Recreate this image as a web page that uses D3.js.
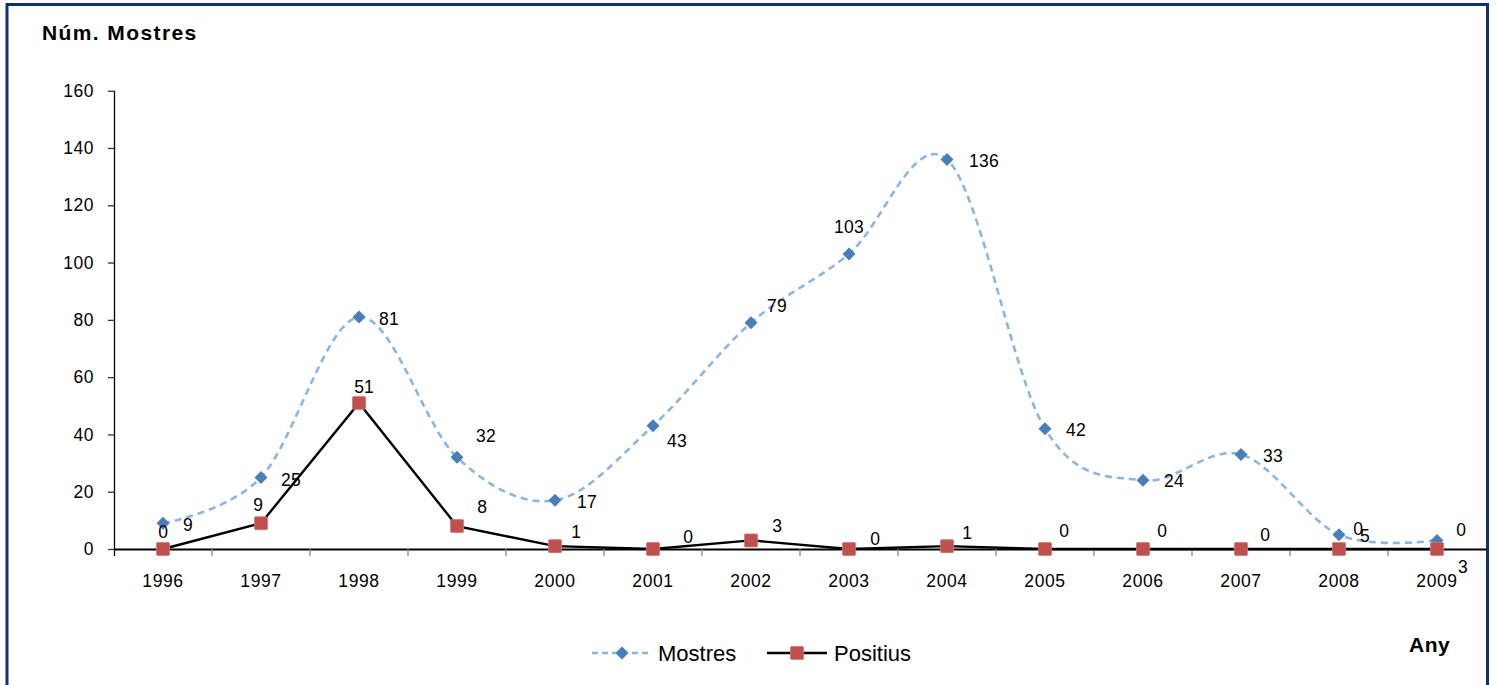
<!DOCTYPE html>
<html><head><meta charset="utf-8">
<script src="https://cdn.jsdelivr.net/npm/d3@7"></script>
<style>
html,body{margin:0;padding:0;background:#fff;}
svg{display:block;font-family:"Liberation Sans",Arial,sans-serif;}
</style></head>
<body>
<svg id="c" width="1496" height="685"></svg>
<script>
const categories = ["1996","1997","1998","1999","2000","2001","2002","2003","2004","2005","2006","2007","2008","2009"];
const mostres  = [9,25,81,32,17,43,79,103,136,42,24,33,5,3];
const positius = [0,9,51,8,1,0,3,0,1,0,0,0,0,0];
const yTicks = [0,20,40,60,80,100,120,140,160];
// label placement offsets (layout)
const mostresLabelOff = [[25,2],[30,2],[30,2],[29,-21],[32,2],[24,15],[26,-17],[0,-27],[37,1],[31,1],[31,1],[32,1],[26,1],[26,26]];
const positiusLabelOff = [[0,-17],[-3,-18],[5,-16],[25,-19],[21,-14],[35,-12],[26,-15],[26,-10],[20,-13],[19,-18],[19,-18],[24,-14],[19,-20],[24,-19]];

const svg = d3.select("#c");
const x = d3.scaleBand().domain(categories).range([114,1486]).padding(0);
const y = d3.scaleLinear().domain([0,160]).range([549,90.7]);
const cx = c => x(c) + x.bandwidth()/2;

// frame
svg.append("rect").attr("x",7).attr("y",4.5).attr("width",1480.5).attr("height",700)
  .attr("fill","none").attr("stroke","#14306c").attr("stroke-width",3);

// y axis
const yAxis = svg.append("g").attr("transform","translate(114,0)")
  .call(d3.axisLeft(y).tickValues(yTicks).tickSize(6).tickSizeOuter(0).tickPadding(14));
yAxis.select(".domain").attr("stroke","#000").attr("stroke-width",1.3).attr("d","M0.5,90.7V556");
yAxis.selectAll(".tick line").attr("stroke","#333").attr("stroke-width",1.3);
yAxis.selectAll("text").attr("font-size",17.5).attr("letter-spacing",0.5).attr("fill","#000").attr("font-family","Liberation Sans, Arial, sans-serif");

// x axis
const xAxis = svg.append("g").attr("transform","translate(0,549)")
  .call(d3.axisBottom(x).tickSize(0).tickSizeOuter(0).tickPadding(26));
xAxis.select(".domain").attr("stroke","#000").attr("stroke-width",2);
xAxis.selectAll("text").attr("font-size",17.5).attr("letter-spacing",0.6).attr("fill","#000").attr("font-family","Liberation Sans, Arial, sans-serif");
xAxis.selectAll(".bt").data(categories.slice(1)).enter().append("line")
  .attr("x1",d=>x(d)).attr("x2",d=>x(d)).attr("y1",0).attr("y2",7)
  .attr("stroke","#888").attr("stroke-width",1.3);

// Mostres line
const lineM = d3.line().x((d,i)=>cx(categories[i])).y(d=>y(d)).curve(d3.curveCatmullRom.alpha(0));
svg.append("path").datum(mostres).attr("d",lineM).attr("fill","none")
  .attr("stroke","#8db4e3").attr("stroke-width",2.6).attr("stroke-dasharray","7,5");

// Positius line
const lineP = d3.line().x((d,i)=>cx(categories[i])).y(d=>y(d));
svg.append("path").datum(positius).attr("d",lineP).attr("fill","none")
  .attr("stroke","#000").attr("stroke-width",2.4);

// markers
const diamond = s => `M0,${-s}L${s},0L0,${s}L${-s},0Z`;
svg.selectAll(".dm").data(mostres).enter().append("path")
  .attr("transform",(d,i)=>`translate(${cx(categories[i])},${y(d)})`)
  .attr("d",diamond(6.5)).attr("fill","#4a7ebb");
svg.selectAll(".sq").data(positius).enter().append("rect")
  .attr("x",(d,i)=>cx(categories[i])-6.5).attr("y",d=>y(d)-6.5)
  .attr("width",13).attr("height",13).attr("rx",1)
  .attr("fill","#c0504d").attr("stroke","#d07a78").attr("stroke-width",0.8);

// data labels
svg.selectAll(".lm").data(mostres).enter().append("text")
  .attr("x",(d,i)=>cx(categories[i])+mostresLabelOff[i][0])
  .attr("y",(d,i)=>y(d)+mostresLabelOff[i][1])
  .attr("dy","0.35em").attr("text-anchor","middle").attr("font-size",17.5).attr("letter-spacing",0.3).attr("fill","#000")
  .text(d=>d);
svg.selectAll(".lp").data(positius).enter().append("text")
  .attr("x",(d,i)=>cx(categories[i])+positiusLabelOff[i][0])
  .attr("y",(d,i)=>y(d)+positiusLabelOff[i][1])
  .attr("dy","0.35em").attr("text-anchor","middle").attr("font-size",17.5).attr("fill","#000")
  .text(d=>d);

// titles
svg.append("text").attr("x",42).attr("y",40).attr("font-size",21).attr("font-weight","bold")
  .attr("letter-spacing",1.4).attr("fill","#000").text("Núm. Mostres");
svg.append("text").attr("x",1409).attr("y",652).attr("font-size",21).attr("font-weight","bold")
  .attr("letter-spacing",0.5).attr("fill","#000").text("Any");

// legend
const lg = svg.append("g");
lg.append("line").attr("x1",592).attr("x2",651).attr("y1",653).attr("y2",653)
  .attr("stroke","#8db4e3").attr("stroke-width",2.6).attr("stroke-dasharray","6,4");
lg.append("path").attr("transform","translate(622,653)").attr("d",diamond(6.5)).attr("fill","#4a7ebb");
lg.append("text").attr("x",658).attr("y",653).attr("dy","0.36em").attr("font-size",22).attr("fill","#000").text("Mostres");
lg.append("line").attr("x1",767).attr("x2",827).attr("y1",653).attr("y2",653)
  .attr("stroke","#000").attr("stroke-width",2.4);
lg.append("rect").attr("x",790.5).attr("y",646.5).attr("width",13).attr("height",13).attr("rx",1)
  .attr("fill","#c0504d").attr("stroke","#d07a78").attr("stroke-width",0.8);
lg.append("text").attr("x",834).attr("y",653).attr("dy","0.36em").attr("font-size",22).attr("fill","#000").text("Positius");
</script>
</body></html>
